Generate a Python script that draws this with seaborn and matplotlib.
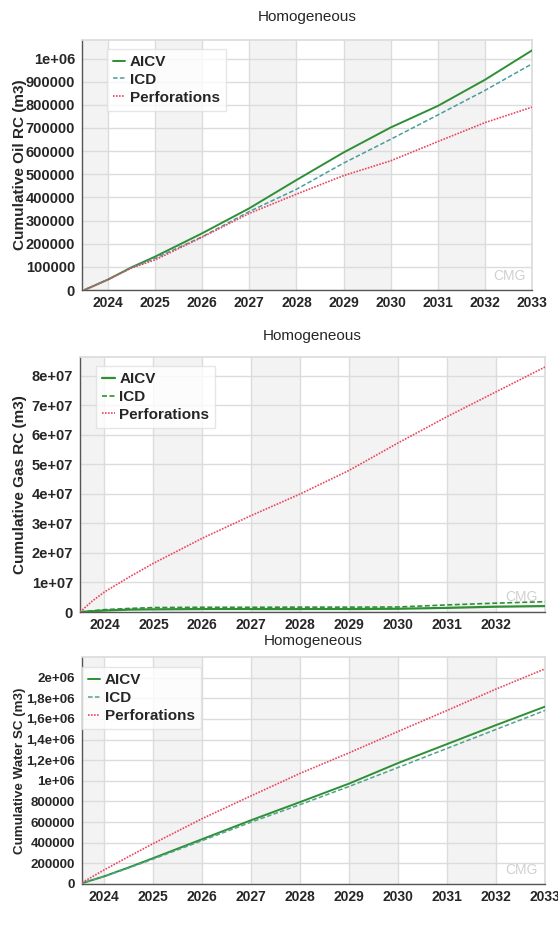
import numpy as np
import pandas as pd
import matplotlib
matplotlib.use("Agg")
import matplotlib.pyplot as plt
import seaborn as sns

sns.set_theme(style="white")
plt.rcParams['font.family'] = ['Liberation Sans', 'DejaVu Sans']

# ---------------- data ----------------
years = [2023.5, 2024, 2024.5, 2025, 2026, 2027, 2028, 2029, 2030, 2031, 2032, 2033]

oil_aicv = [0, 45000, 98000, 144000, 245000, 353000, 475000, 594000, 702000, 795000, 908000, 1035000]
oil_icd = [0, 45000, 96000, 137000, 230000, 339000, 435000, 548000, 651000, 756000, 862000, 977000]
oil_perf = [0, 45000, 95000, 130000, 228000, 331000, 414000, 494000, 558000, 641000, 723000, 790000]

gas_years = [2023.5, 2023.75, 2024, 2024.5, 2025, 2026, 2027, 2028, 2029, 2030, 2031, 2032, 2033]
gas_aicv = [0, 250000, 500000, 800000, 900000, 1000000, 1000000, 1000000, 1000000, 1100000, 1400000, 1800000, 2000000]
gas_icd = [0, 400000, 800000, 1200000, 1500000, 1600000, 1600000, 1650000, 1650000, 1700000, 2400000, 3000000, 3500000]
gas_perf = [0, 3700000, 6800000, 11800000, 16500000, 25000000, 32700000, 40000000, 48000000, 57300000, 66200000, 74600000, 83000000]

water_aicv = [0, 74000, 160000, 250000, 434000, 618000, 794000, 973000, 1172000, 1356000, 1540000, 1719000]
water_icd = [0, 72000, 155000, 241000, 420000, 599000, 769000, 945000, 1129000, 1314000, 1498000, 1682000]
water_perf = [0, 136000, 265000, 391000, 633000, 854000, 1072000, 1271000, 1478000, 1682000, 1889000, 2085000]

series_names = ["AICV", "ICD", "Perforations"]
title_text = "Homogeneous"

oil_ticks = [0, 100000, 200000, 300000, 400000, 500000, 600000, 700000, 800000, 900000, 1000000]
oil_ticklabels = ["0", "100000", "200000", "300000", "400000", "500000", "600000", "700000", "800000", "900000", "1e+06"]
gas_ticks = [0, 1e7, 2e7, 3e7, 4e7, 5e7, 6e7, 7e7, 8e7]
gas_ticklabels = ["0", "1e+07", "2e+07", "3e+07", "4e+07", "5e+07", "6e+07", "7e+07", "8e+07"]
water_ticks = [0, 200000, 400000, 600000, 800000, 1000000, 1200000, 1400000, 1600000, 1800000, 2000000]
water_ticklabels = ["0", "200000", "400000", "600000", "800000", "1e+06", "1,2e+06", "1,4e+06", "1,6e+06", "1,8e+06", "2e+06"]

# ---------------- figure ----------------
W, H = 558, 927
fig = plt.figure(figsize=(W / 100, H / 100), dpi=100)


def add_ax(left, right, top, bottom):
    return fig.add_axes([left / W, 1 - bottom / H, (right - left) / W, (bottom - top) / H])


GREEN = "#2f8f35"
TEAL = "#4a9e9a"
TEAL2 = "#4fa58a"
RED = "#e8475f"
GRID = "#dcdcdc"
SHADE = "#f3f3f3"


def style_panel(ax, xlim, ylim, yticks, yticklabels, ylabel, xtick_years,
                ylabel_size, ytick_size, label_x):
    ax.set_xlim(*xlim)
    ax.set_ylim(*ylim)
    # alternating year shading
    for y0 in [2023, 2025, 2027, 2029, 2031]:
        ax.axvspan(max(y0, xlim[0]), y0 + 1, color=SHADE, zorder=0, lw=0)
    ax.set_xticks(xtick_years)
    ax.set_xticklabels([str(y) for y in xtick_years], fontsize=10, fontweight="bold")
    ax.set_yticks(yticks)
    ax.set_yticklabels(yticklabels, fontsize=ytick_size, fontweight="bold")
    ax.grid(True, color=GRID, lw=1, zorder=1)
    ax.set_axisbelow(True)
    for s in ["top", "right"]:
        ax.spines[s].set_color(GRID)
    for s in ["left", "bottom"]:
        ax.spines[s].set_color("#555555")
        ax.spines[s].set_linewidth(1)
    ax.tick_params(axis="both", which="major", length=3, color="#555555", pad=2)
    ax.tick_params(axis="x", pad=1.5)
    ax.set_xlabel("")
    ax.set_ylabel(ylabel, fontsize=ylabel_size, fontweight="bold")
    ax.yaxis.set_label_coords(label_x, 0.5)
    ax.text(0.985, 0.03, "CMG", transform=ax.transAxes, ha="right", va="bottom",
            fontsize=10, color="#d0d0d0", zorder=2)


def legend(ax, loc_anchor):
    leg = ax.legend(loc="upper left", bbox_to_anchor=loc_anchor, frameon=True,
                    prop={"size": 11, "weight": "bold"}, handlelength=0.8,
                    handletextpad=0.3, borderpad=0.4, labelspacing=0.25,
                    fancybox=False, borderaxespad=0)
    leg.get_frame().set_edgecolor("#e0e0e0")
    leg.get_frame().set_linewidth(1)


# ---- panel 1: oil ----
ax1 = add_ax(82, 532, 40, 290)
df1 = pd.DataFrame({"year": years, "AICV": oil_aicv, "ICD": oil_icd, "Perforations": oil_perf})
sns.lineplot(data=df1, x="year", y="AICV", ax=ax1, color=GREEN, lw=1.4, label="AICV", zorder=4)
sns.lineplot(data=df1, x="year", y="ICD", ax=ax1, color=TEAL, lw=1.1, ls=(0, (3, 1.5)), label="ICD", zorder=4)
sns.lineplot(data=df1, x="year", y="Perforations", ax=ax1, color=RED, lw=1.2, ls=(0, (1, 0.8)), label="Perforations", zorder=4)
style_panel(ax1, (2023.45, 2033.0), (0, 1080000), oil_ticks, oil_ticklabels,
            "Cumulative Oil RC (m3)", list(range(2024, 2034)), 11, 10.5, (27 - 82) / 450)
legend(ax1, (0.055, 0.965))
ax1.set_title(title_text, fontsize=11, pad=14)

# ---- panel 2: gas ----
ax2 = add_ax(80, 545, 357, 612)
df2 = pd.DataFrame({"year": gas_years, "AICV": gas_aicv, "ICD": gas_icd, "Perforations": gas_perf})
sns.lineplot(data=df2, x="year", y="AICV", ax=ax2, color=GREEN, lw=1.6, label="AICV", zorder=4)
sns.lineplot(data=df2, x="year", y="ICD", ax=ax2, color=GREEN, lw=1.2, ls=(0, (3, 1.5)), label="ICD", zorder=4)
sns.lineplot(data=df2, x="year", y="Perforations", ax=ax2, color=RED, lw=1.2, ls=(0, (1, 0.8)), label="Perforations", zorder=4)
style_panel(ax2, (2023.5, 2033.0), (0, 8.64e7), gas_ticks, gas_ticklabels,
            "Cumulative Gas RC (m3)", list(range(2024, 2033)), 11, 10.5, (27 - 80) / 465)
legend(ax2, (0.035, 0.965))
ax2.set_title(title_text, fontsize=11, pad=12)

# ---- panel 3: water ----
ax3 = add_ax(82, 545, 657, 884)
df3 = pd.DataFrame({"year": years, "AICV": water_aicv, "ICD": water_icd, "Perforations": water_perf})
sns.lineplot(data=df3, x="year", y="AICV", ax=ax3, color=GREEN, lw=1.4, label="AICV", zorder=4)
sns.lineplot(data=df3, x="year", y="ICD", ax=ax3, color=TEAL2, lw=1.1, ls=(0, (3, 1.5)), label="ICD", zorder=4)
sns.lineplot(data=df3, x="year", y="Perforations", ax=ax3, color=RED, lw=1.2, ls=(0, (1, 0.8)), label="Perforations", zorder=4)
style_panel(ax3, (2023.55, 2033.0), (0, 2.2e6), water_ticks, water_ticklabels,
            "Cumulative Water SC (m3)", list(range(2024, 2034)), 9.6, 9.6, (26 - 82) / 463)
legend(ax3, (0.0, 0.955))
ax3.set_title(title_text, fontsize=11, pad=9)

fig.savefig("out.png", dpi=100)
